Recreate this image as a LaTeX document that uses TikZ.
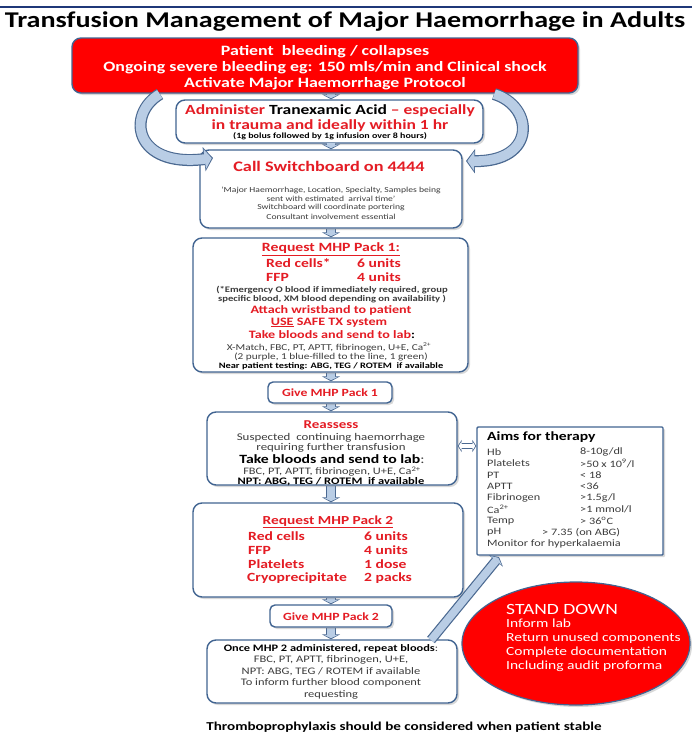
\documentclass[tikz,border=0pt]{standalone}
\usepackage{fontspec}
\setmainfont{Carlito}[FakeStretch=1.25]
\usetikzlibrary{arrows.meta,shadows,calc,shapes.geometric}
\definecolor{navy}{RGB}{31,56,120}
\definecolor{boxborder}{RGB}{65,100,145}
\definecolor{redfill}{RGB}{255,0,0}
\definecolor{redtext}{RGB}{228,28,36}
\definecolor{arrowfill}{RGB}{185,205,229}
\definecolor{arrowedge}{RGB}{75,105,145}
\definecolor{greytext}{RGB}{60,60,60}
\pgfdeclarelayer{bg}
\pgfsetlayers{bg,main}
\newcommand{\fsz}[1]{\fontsize{#1}{#1}\selectfont}
\begin{document}
\begin{tikzpicture}[x=1pt,y=-1pt,
  box/.style={draw=boxborder, line width=1.4pt, rounded corners=9pt, fill=white, inner sep=0pt,
    drop shadow={opacity=0.3, shadow xshift=2pt, shadow yshift=-2pt}},
  redbox/.style={box, fill=redfill},
  sqbox/.style={box, rounded corners=1pt},
  tx/.style={inner sep=0pt, anchor=center},
  lt/.style={inner sep=0pt, anchor=west},
  blkout/.style={line width=10pt, draw=arrowedge, -{Triangle[width=18pt,length=5pt]}},
  blkin/.style={line width=7.6pt, draw=arrowfill, -{Triangle[width=14pt,length=3.4pt]}, shorten >=1.1pt},
  curout/.style={line width=12pt, draw=arrowedge, -{Triangle[width=24pt,length=9pt]}},
  curin/.style={line width=9.6pt, draw=arrowfill, -{Triangle[width=19.5pt,length=7pt]}, shorten >=1.3pt, shorten <=0.3pt},
  dblout/.style={line width=6pt, draw=arrowedge, {Triangle[width=12pt,length=4pt]}-{Triangle[width=12pt,length=4pt]}},
  dblin/.style={line width=4pt, draw=white, {Triangle[width=8.5pt,length=2.8pt]}-{Triangle[width=8.5pt,length=2.8pt]}, shorten >=1pt, shorten <=1pt}
]
\useasboundingbox (0,0) rectangle (692,736);
\begin{pgfonlayer}{bg}
\fill[white] (0,0) rectangle (692,736);
\end{pgfonlayer}
\draw[navy, line width=2.2pt] (0,7) -- (692,7);

% title
\node[tx, font=\fsz{22.5}\bfseries] (title) at (345,22) {Transfusion Management of Major Haemorrhage in Adults};

% boxes
\node[redbox, minimum width=506, minimum height=55] (red) at (325,65.5) {};
\node[box, minimum width=307, minimum height=43] (tx) at (329.5,121.5) {};
\node[box, minimum width=262, minimum height=78] (sw) at (331,189) {};
\node[box, minimum width=275, minimum height=134] (p1) at (330.5,305) {};
\node[box, minimum width=124, minimum height=21, rounded corners=5pt] (g1) at (330,392.5) {};
\node[box, minimum width=250, minimum height=73] (re) at (332,448.5) {};
\node[box, minimum width=270, minimum height=94] (p2) at (328,550) {};
\node[box, minimum width=122, minimum height=22, rounded corners=5pt] (g2) at (331,616) {};
\node[box, minimum width=250, minimum height=63] (fin) at (332,671.5) {};
\node[sqbox, minimum width=186, minimum height=128] (aims) at (570,491) {};
\node[ellipse, draw=boxborder, line width=1.2pt, fill=redfill, minimum width=228, minimum height=123, inner sep=0pt,
  drop shadow={opacity=0.3, shadow xshift=2pt, shadow yshift=-2pt}] (sd) at (576,643.5) {};

% straight block connectors
\begin{pgfonlayer}{bg}
\foreach \a/\b in {red/tx, sw/p1, p1/g1, g1/re, re/p2, p2/g2, g2/fin}{
  \draw[blkout] (\a.south -| sw.center) -- (\b.north -| sw.center);
  \draw[blkin] (\a.south -| sw.center) -- (\b.north -| sw.center);
}
\end{pgfonlayer}
\draw[blkout] (tx.south -| sw.center) -- (sw.north);
\draw[blkin] ([yshift=0.8pt]tx.south -| sw.center) -- (sw.north);

% curved arrows
\coordinate (ls) at (160,94);
\coordinate (le) at (213,158);
\coordinate (rs) at (494,94);
\coordinate (re2) at (466,161);
\draw[curout] (ls) .. controls (126,114) and (134,168) .. (le);
\draw[curin] (ls) .. controls (126,114) and (134,168) .. (le);
\draw[curout] (rs) .. controls (534,106) and (537,162) .. (re2);
\draw[curin] (rs) .. controls (534,106) and (537,162) .. (re2);

% double arrow reassess <-> aims
\coordinate (da) at (457,446);
\draw[dblout] (re.east |- da) -- (aims.west |- da);
\draw[dblin] (re.east |- da) -- (aims.west |- da);

% diagonal arrow fin -> aims
\coordinate (fa) at (431,640);
\coordinate (fb) at (499,557);
\draw[blkout] (fa) -- (fb);
\draw[blkin] (fa) -- (fb);

% red box text
\begin{scope}[every node/.style={tx, text=white, font=\fsz{14.3}\bfseries}]
\node (r1) at (325,52) {Patient\ \ bleeding / collapses};
\node (r2) at (325,68) {Ongoing severe bleeding eg: 150 mls/min and Clinical shock};
\node (r3) at (325,83.5) {Activate Major Haemorrhage Protocol};
\end{scope}

% tranexamic
\node[tx, font=\fsz{14}\bfseries] (t1) at (330,111) {\textcolor{redtext}{Administer} Tranexamic Acid \textcolor{redtext}{-- especially}};
\node[tx, font=\fsz{14}\bfseries, text=redtext] (t2) at (330,125.5) {in trauma and ideally within 1 hr};
\node[tx, font=\fsz{8}\bfseries] (t3) at (330,136.5) {(1g bolus followed by 1g infusion over 8 hours)};

% switchboard
\node[tx, font=\fsz{14.6}\bfseries, text=redtext] (s1) at (329,166) {Call Switchboard on 4444};
\begin{scope}[every node/.style={tx, font=\fsz{7.7}, text=greytext}]
\node (s2) at (331,190) {`Major Haemorrhage, Location, Specialty, Samples being};
\node (s3) at (331,198.5) {sent with estimated\ \ arrival time'};
\node (s4) at (331,207.5) {Switchboard will coordinate portering};
\node (s5) at (331,216.5) {Consultant involvement essential};
\end{scope}

% pack 1
\node[tx, font=\fsz{12.6}\bfseries, text=redtext] (p1t) at (331,249.5) {\underline{Request MHP Pack 1:}};
\begin{scope}[every node/.style={lt, font=\fsz{12.5}\bfseries, text=redtext}]
\node (p1a) at (266,263.5) {Red cells*};
\node (p1b) at (357,263.5) {6 units};
\node (p1c) at (266,277) {FFP};
\node (p1d) at (357,277) {4 units};
\end{scope}
\node[tx, font=\fsz{8.5}\bfseries, text=greytext] (p1e) at (332,290) {(*Emergency O blood if immediately required, group};
\node[tx, font=\fsz{8.5}\bfseries, text=greytext] (p1f) at (332,299) {specific blood, XM blood depending on availability )};
\node[tx, font=\fsz{11.3}\bfseries, text=redtext] (p1g) at (331,310.5) {Attach wristband to patient};
\node[tx, font=\fsz{11.3}\bfseries, text=redtext] (p1h) at (329,322.5) {\underline{USE} SAFE TX system};
\node[tx, font=\fsz{11.3}\bfseries, text=redtext] (p1i) at (332,334.5) {Take bloods and send to lab\textcolor{black}{:}};
\node[tx, font=\fsz{9}, text=greytext] (p1j) at (329,347) {X-Match, FBC, PT, APTT, fibrinogen, U+E, Ca\textsuperscript{2+}};
\node[tx, font=\fsz{9}, text=greytext] (p1k) at (331,357) {(2 purple, 1 blue-filled to the line, 1 green)};
\node[tx, font=\fsz{8.3}\bfseries] (p1l) at (331,366.5) {Near patient testing: ABG, TEG / ROTEM\ \ if available};

% give 1
\node[tx, font=\fsz{11}\bfseries, text=redtext] (g1t) at (330,393) {Give MHP Pack 1};

% reassess
\node[tx, font=\fsz{12}\bfseries, text=redtext] (ra) at (331,425) {Reassess};
\node[tx, font=\fsz{10.3}, text=greytext] (rb) at (331,437.5) {Suspected\ \ continuing haemorrhage};
\node[tx, font=\fsz{10.3}, text=greytext] (rc) at (331,447.5) {requiring further transfusion};
\node[tx, font=\fsz{12.6}\bfseries] (rd) at (332,459) {Take bloods and send to lab\textcolor{greytext}{\mdseries:}};
\node[tx, font=\fsz{9.9}, text=greytext] (rf) at (332,471.5) {FBC, PT, APTT, fibrinogen, U+E, Ca\textsuperscript{2+}};
\node[tx, font=\fsz{10}\bfseries] (rg) at (331,482) {NPT: ABG, TEG / ROTEM\ \ if available};

% pack 2
\node[tx, font=\fsz{12.3}\bfseries, text=redtext] (p2t) at (328,522) {\underline{Request MHP Pack 2}};
\begin{scope}[every node/.style={lt, font=\fsz{12.5}\bfseries, text=redtext}]
\node (p2a) at (248,536) {Red cells};
\node (p2b) at (364,536) {6 units};
\node (p2c) at (248,550) {FFP};
\node (p2d) at (364,550) {4 units};
\node (p2e) at (248,564) {Platelets};
\node (p2f) at (364,564) {1 dose};
\node (p2g) at (247,578) {Cryoprecipitate};
\node (p2h) at (364,578) {2 packs};
\end{scope}

% give 2
\node[tx, font=\fsz{11}\bfseries, text=redtext] (g2t) at (331,617) {Give MHP Pack 2};

% final
\node[tx, font=\fsz{9.9}\bfseries] (fa1) at (331,648.5) {Once MHP 2 administered, repeat bloods\textcolor{greytext}{\mdseries:}};
\begin{scope}[every node/.style={tx, font=\fsz{10}, text=greytext}]
\node (fa2) at (331,660) {FBC, PT, APTT, fibrinogen, U+E,};
\node (fa3) at (331,671.5) {NPT: ABG, TEG / ROTEM if available};
\node (fa4) at (331,683) {To inform further blood component};
\node (fa5) at (331,694.5) {requesting};
\end{scope}

% aims
\node[lt, font=\fsz{12.5}\bfseries] (am) at (487,437.5) {Aims for therapy};
\begin{scope}[every node/.style={lt, font=\fsz{9.8}, text=greytext}]
\node (a1) at (487,452) {Hb};            \node (a1v) at (580,452) {8-10g/dl};
\node (a2) at (487,463.5) {Platelets};   \node (a2v) at (580,463.5) {>50 x 10\textsuperscript{9}/l};
\node (a3) at (487,475) {PT};            \node (a3v) at (580,475) {< 18};
\node (a4) at (487,486.5) {APTT};        \node (a4v) at (580,486.5) {<36};
\node (a5) at (487,498) {Fibrinogen};    \node (a5v) at (580,498) {>1.5g/l};
\node (a6) at (487,509.5) {Ca\textsuperscript{2+}}; \node (a6v) at (580,509.5) {>1 mmol/l};
\node (a7) at (487,521) {Temp};          \node (a7v) at (580,521) {> 36\textsuperscript{o}C};
\node (a8) at (487,532.5) {pH};          \node (a8v) at (542,532.5) {> 7.35 (on ABG)};
\node (a9) at (487,544) {Monitor for hyperkalaemia};
\end{scope}

% stand down
\begin{scope}[every node/.style={lt, text=white}]
\node[font=\fsz{15.6}] (sd0) at (506,609) {STAND DOWN};
\node[font=\fsz{12.4}] (sd1) at (506,623.5) {Inform lab};
\node[font=\fsz{12.4}] (sd2) at (506,638.5) {Return unused components};
\node[font=\fsz{12.4}] (sd3) at (506,652.5) {Complete documentation};
\node[font=\fsz{12.4}] (sd4) at (506,666.5) {Including audit proforma};
\end{scope}

% bottom
\node[tx, font=\fsz{12.1}\bfseries] (bt) at (404,727) {Thromboprophylaxis should be considered when patient stable};
\end{tikzpicture}
\end{document}
